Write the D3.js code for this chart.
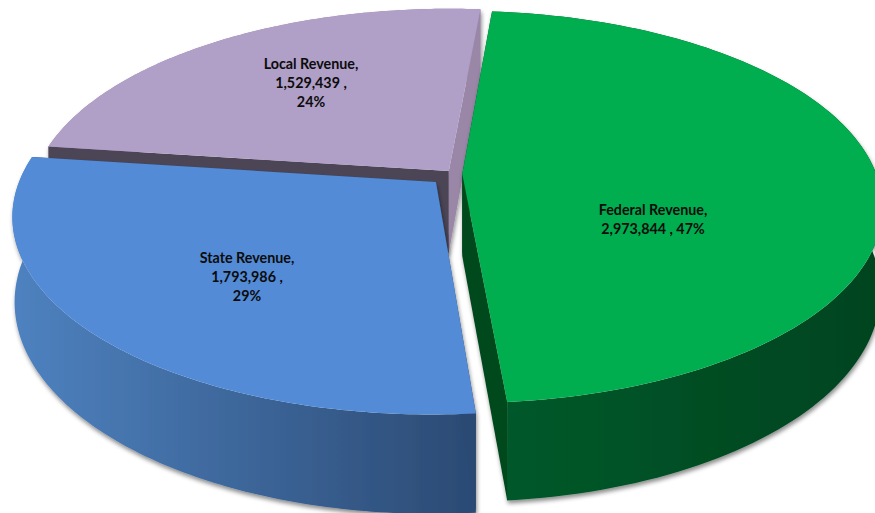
<!DOCTYPE html>
<html>
<head>
<meta charset="utf-8">
<script src="https://cdn.jsdelivr.net/npm/d3@7/dist/d3.min.js"></script>
<style>html,body{margin:0;padding:0;background:#fff;overflow:hidden}svg{display:block}</style>
</head>
<body>
<script>
const categories = ["Federal Revenue", "State Revenue", "Local Revenue"];
const values = [2973844, 1793986, 1529439];
const percentLabels = ["47%", "29%", "24%"];
const topColors = ["#00ae4f", "#538bd6", "#b09fc6"];
const startWallColors = ["#004d22", "#2b4a73", "#4c4456"];
const endWallColors = ["#00491f", "#2b4a73", "#9a87a8"];
const rimGradients = [["#005a2a", "#03431f"], ["#4e82c0", "#2b4a73"], ["#9a87a8", "#9a87a8"]];
const explode = [0.02, 0.06, 0.02];
const labelLines = [
  ["Federal Revenue,", "2,973,844 , 47%"],
  ["State Revenue,", "1,793,986 ,", "29%"],
  ["Local Revenue,", "1,529,439 ,", "24%"]
];
const labelPos = [[653, 210], [247, 258], [311, 64]];

const W = 875, H = 513;
const cx = 454, cy = 174, R = 414, Rt = 190.5, persp = 0.168, depth = 82, depthShrink = 0.995;

const svg = d3.select("body").append("svg").attr("width", W).attr("height", H);
const defs = svg.append("defs");
const f = defs.append("filter").attr("id", "sh").attr("x", "-5%").attr("y", "-5%").attr("width", "110%").attr("height", "110%");
f.append("feDropShadow").attr("dx", 1).attr("dy", 3).attr("stdDeviation", 2.2)
  .attr("flood-color", "#000").attr("flood-opacity", 0.45);

function project(u, v, bottom) {
  const w = 1 - persp * v;
  const s = bottom ? depthShrink : 1;
  return [cx + s * R * u / w, cy + Rt * v / w + (bottom ? depth / w : 0)];
}
const pie = d3.pie().sort(null).value(d => d)
  .startAngle(5 * Math.PI / 180).endAngle(365 * Math.PI / 180);
const arcs = pie(values);
const line = d3.line();

const order = [2, 1, 0];
order.forEach(i => {
  const a = arcs[i];
  const mid = (a.startAngle + a.endAngle) / 2;
  const ou = explode[i] * Math.sin(mid), ov = -explode[i] * Math.cos(mid);
  const steps = d3.range(0, 121).map(k => a.startAngle + (a.endAngle - a.startAngle) * k / 120);
  const rim = b => steps.map(t => project(ou + Math.sin(t), ov - Math.cos(t), b));
  const apexT = project(ou, ov, false), apexB = project(ou, ov, true);
  const top = rim(false), bot = rim(true);

  const grad = defs.append("linearGradient").attr("id", "rim" + i)
    .attr("gradientUnits", "userSpaceOnUse")
    .attr("x1", d3.min(top, p => p[0])).attr("x2", d3.max(top, p => p[0])).attr("y1", 0).attr("y2", 0);
  grad.append("stop").attr("offset", 0).attr("stop-color", rimGradients[i][0]);
  grad.append("stop").attr("offset", 1).attr("stop-color", rimGradients[i][1]);

  const g = svg.append("g").attr("class", "slice");
  const walls = g.append("g").attr("filter", "url(#sh)");
  walls.append("path").attr("fill", `url(#rim${i})`)
    .attr("d", line(top.concat(bot.slice().reverse())) + "Z");
  walls.append("path").attr("fill", startWallColors[i])
    .attr("d", line([apexT, top[0], [top[0][0], bot[0][1]], apexB]) + "Z");
  walls.append("path").attr("fill", endWallColors[i])
    .attr("d", line([apexT, top[top.length - 1], [top[top.length - 1][0], bot[bot.length - 1][1]], apexB]) + "Z");
  g.append("path").attr("fill", topColors[i])
    .attr("d", line([apexT].concat(top)) + "Z");
});

const labels = svg.append("g").attr("font-family", "Lato, 'Open Sans', sans-serif")
  .attr("font-weight", 700).attr("font-size", 14.3).attr("fill", "#0c0c0c").attr("text-anchor", "middle");
labelLines.forEach((lines, i) => {
  lines.forEach((t, j) => {
    labels.append("text").attr("x", labelPos[i][0]).attr("y", labelPos[i][1] + j * 19)
      .attr("dy", "0.35em").text(t);
  });
});
</script>
</body>
</html>
